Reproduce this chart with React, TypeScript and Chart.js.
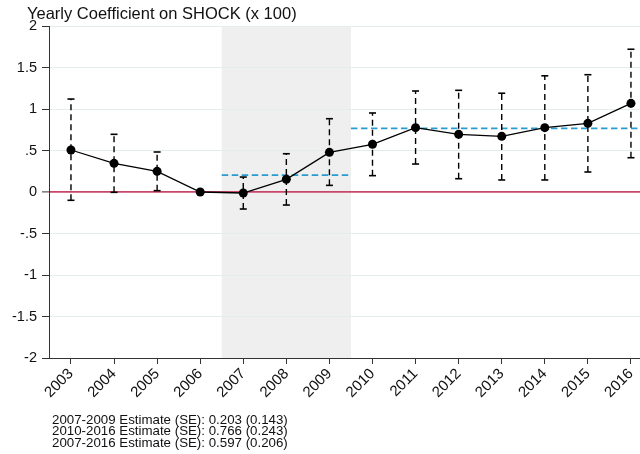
import React, { useEffect, useRef } from 'react';
import { Chart, registerables } from 'chart.js';

Chart.register(...registerables);

// ---- data ----
const years = [2003, 2004, 2005, 2006, 2007, 2008, 2009, 2010, 2011, 2012, 2013, 2014, 2015, 2016];
const coef = [0.506, 0.345, 0.249, 0.0, -0.012, 0.153, 0.478, 0.575, 0.775, 0.695, 0.671, 0.775, 0.827, 1.068];
const ciLow: (number | null)[] = [-0.1, -0.004, 0.016, null, -0.205, -0.157, 0.08, 0.197, 0.337, 0.16, 0.145, 0.145, 0.241, 0.413];
const ciHigh: (number | null)[] = [1.12, 0.695, 0.482, null, 0.18, 0.461, 0.883, 0.952, 1.217, 1.225, 1.19, 1.4, 1.413, 1.72];

const periodStart = [2006.5, 2009.5];
const periodEnd = [2009.5, 2016.5];
const periodEstimate = [0.203, 0.766];
const shadeRange = [2006.5, 2009.5];

const yTickValues = [-2, -1.5, -1, -0.5, 0, 0.5, 1, 1.5, 2];
const titleText = 'Yearly Coefficient on SHOCK (x 100)';
const noteLines = [
  '2007-2009 Estimate (SE): 0.203 (0.143)',
  '2010-2016 Estimate (SE): 0.766 (0.243)',
  '2007-2016 Estimate (SE): 0.597 (0.206)',
];

const FONT = '"Liberation Sans", Arial, Helvetica, sans-serif';
const TEXT = '#111111';
const AXIS = '#333333';
const GRID = '#e4ecee';
const ZERO = '#c9466b';
const BLUE = '#2a9bd0';
const SHADE = '#efefef';

function fmtTick(v: number): string {
  if (v === 0) return '0';
  const s = String(v);
  return s.replace(/^(-?)0\./, '$1.');
}

const shadePlugin = {
  id: 'shade',
  beforeDraw(chart: any) {
    const { ctx, chartArea, scales } = chart;
    const x = scales.x;
    const x0 = x.getPixelForValue(shadeRange[0]);
    const x1 = x.getPixelForValue(shadeRange[1]);
    ctx.save();
    ctx.fillStyle = SHADE;
    ctx.fillRect(x0, chartArea.top, x1 - x0, chartArea.bottom - chartArea.top);
    ctx.restore();
  },
};

const textPlugin = {
  id: 'texts',
  afterDraw(chart: any) {
    const { ctx } = chart;
    ctx.save();
    ctx.fillStyle = TEXT;
    ctx.textAlign = 'left';
    ctx.textBaseline = 'alphabetic';
    ctx.font = `16.5px ${FONT}`;
    ctx.fillText(titleText, 27, 19);
    ctx.font = `13.3px ${FONT}`;
    noteLines.forEach((t, i) => {
      ctx.fillText(t, 52, 423.5 + i * 11.7);
    });
    ctx.restore();
  },
};

export default function App() {
  const ref = useRef<HTMLCanvasElement | null>(null);

  useEffect(() => {
    if (!ref.current) return;

    const errorSets: any[] = [];
    years.forEach((yr, i) => {
      const lo = ciLow[i];
      const hi = ciHigh[i];
      if (lo === null || hi === null) return;
      errorSets.push({
        type: 'line',
        data: [
          { x: yr, y: lo },
          { x: yr, y: hi },
        ],
        borderColor: '#000',
        borderWidth: 1.4,
        borderDash: [6, 4],
        pointStyle: 'line',
        pointRadius: 3.5,
        pointBorderColor: '#000',
        pointBorderWidth: 1.6,
        pointBackgroundColor: '#000',
        order: 2,
      });
    });

    const periodSets = periodEstimate.map((v, i) => ({
      type: 'line',
      data: [
        { x: periodStart[i], y: v },
        { x: periodEnd[i], y: v },
      ],
      borderColor: BLUE,
      borderWidth: 1.6,
      borderDash: [6.5, 3.5],
      pointRadius: 0,
      order: 3,
    }));

    const mainSet = {
      type: 'line',
      data: years.map((x, i) => ({ x, y: coef[i] })),
      borderColor: '#000',
      borderWidth: 1.3,
      pointRadius: 4.5,
      pointBackgroundColor: '#000',
      pointBorderColor: '#000',
      pointBorderWidth: 0,
      order: 0,
    };

    const chart = new Chart(ref.current, {
      type: 'line',
      data: { datasets: [mainSet, ...errorSets, ...periodSets] as any },
      options: {
        responsive: false,
        animation: false,
        events: [],
        layout: { autoPadding: false, padding: { top: 26, left: 0, right: 0, bottom: 0 } },
        plugins: {
          legend: { display: false },
          tooltip: { enabled: false },
          title: { display: false },
        },
        scales: {
          x: {
            type: 'linear',
            min: 2002.49,
            max: 2016.21,
            afterFit: (s: any) => {
              s.height = 96;
              s.paddingLeft = 0;
              s.paddingRight = 0;
            },
            afterBuildTicks: (s: any) => {
              s.ticks = years.map((v) => ({ value: v }));
            },
            border: { display: true, color: AXIS, width: 1 },
            grid: {
              drawOnChartArea: false,
              drawTicks: true,
              tickLength: 6,
              tickColor: AXIS,
              tickWidth: 1,
            },
            ticks: {
              autoSkip: false,
              maxRotation: 45,
              minRotation: 45,
              padding: 1,
              color: TEXT,
              font: { family: FONT, size: 15 },
              callback: (v: any) => String(v),
            },
          },
          y: {
            type: 'linear',
            position: 'left',
            min: -2,
            max: 2,
            afterFit: (s: any) => {
              s.width = 49;
              s.paddingTop = 0;
              s.paddingBottom = 0;
            },
            afterBuildTicks: (s: any) => {
              s.ticks = yTickValues.map((v) => ({ value: v }));
            },
            border: { display: true, color: AXIS, width: 1 },
            grid: {
              color: (c: any) => (c.tick && c.tick.value === 0 ? ZERO : GRID),
              lineWidth: (c: any) => (c.tick && c.tick.value === 0 ? 1.8 : 1),
              drawTicks: true,
              tickLength: 7,
              tickColor: AXIS,
              tickWidth: 1,
            },
            ticks: {
              padding: 5,
              color: TEXT,
              font: { family: FONT, size: 14.5 },
              callback: (v: any) => fmtTick(Number(v)),
            },
          },
        },
      } as any,
      plugins: [shadePlugin, textPlugin],
    });

    return () => chart.destroy();
  }, []);

  return (
    <div style={{ position: 'absolute', left: 0, top: 0, width: 640, height: 454, background: '#fff' }}>
      <canvas ref={ref} width={640} height={454} style={{ display: 'block' }} />
    </div>
  );
}
